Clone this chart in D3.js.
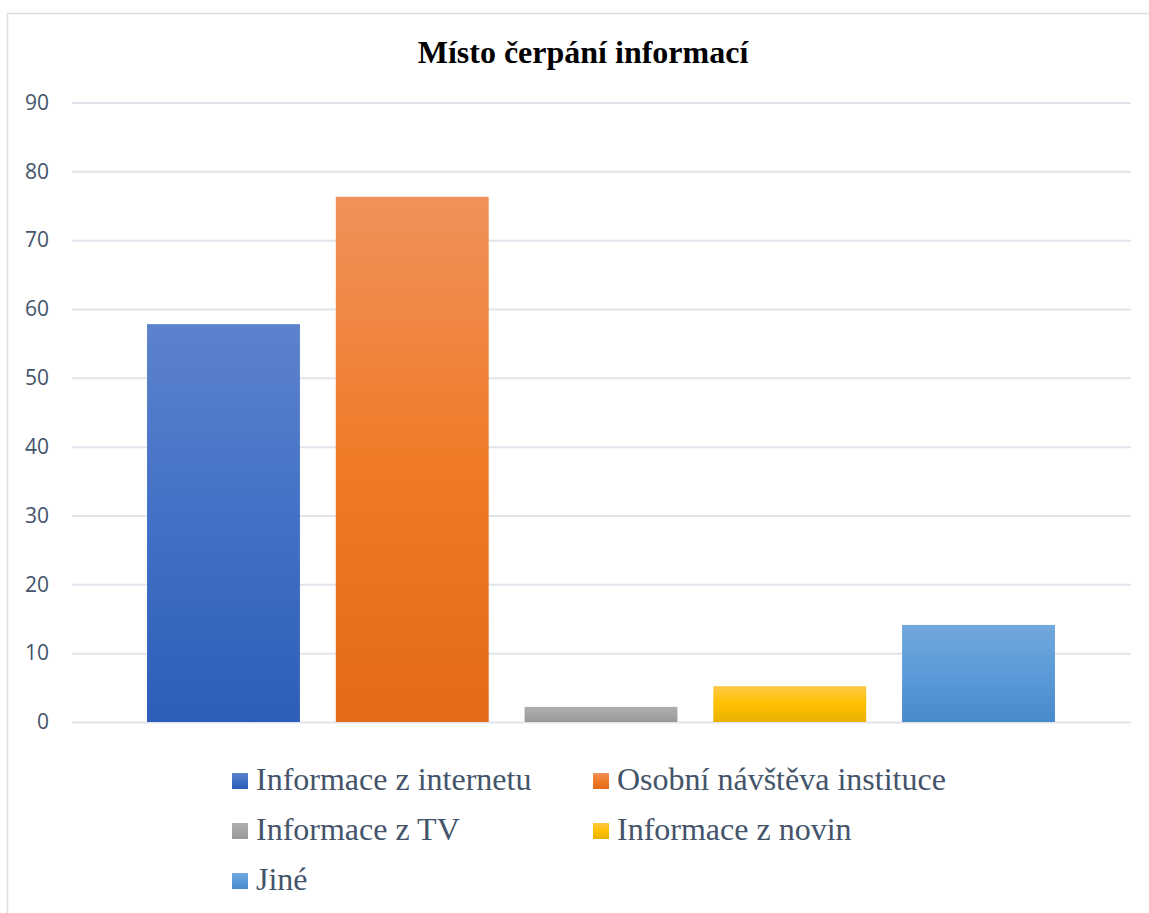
<!DOCTYPE html>
<html>
<head>
<meta charset="utf-8">
<script src="https://cdn.jsdelivr.net/npm/d3@7"></script>
<style>
  html, body { margin: 0; padding: 0; background: #ffffff; }
  svg { display: block; }
</style>
</head>
<body>
<script>
// ---- data ----
const categories = ["Informace z internetu", "Osobní návštěva instituce", "Informace z TV", "Informace z novin", "Jiné"];
const values = [57.8, 76.3, 2.2, 5.2, 14.1];
const yTicks = [0, 10, 20, 30, 40, 50, 60, 70, 80, 90];
const title = "Místo čerpání informací";
// gradient stops per category: [top, middle, bottom]
const colorStops = [
  ["#5c82cc", "#4270c6", "#2d5db8"],
  ["#f1915b", "#ef7b27", "#e36a18"],
  ["#afafaf", "#a5a5a5", "#989898"],
  ["#ffc848", "#ffc000", "#e8b200"],
  ["#71a8dc", "#5b9bd9", "#4889ca"]
];

const W = 1149, H = 913;
const svg = d3.select("body").append("svg").attr("width", W).attr("height", H);
const defs = svg.append("defs");

colorStops.forEach((c, i) => {
  const g = defs.append("linearGradient").attr("id", "grad" + i)
    .attr("x1", 0).attr("y1", 0).attr("x2", 0).attr("y2", 1);
  g.append("stop").attr("offset", "0%").attr("stop-color", c[0]);
  g.append("stop").attr("offset", "50%").attr("stop-color", c[1]);
  g.append("stop").attr("offset", "100%").attr("stop-color", c[2]);
});

// chart frame
svg.append("rect").attr("x", 7.5).attr("y", 13.5).attr("width", W + 20).attr("height", H + 20)
  .attr("fill", "#ffffff").attr("stroke", "#d9dde4").attr("stroke-width", 1.5);

// title
svg.append("text").attr("x", 583).attr("y", 63).attr("text-anchor", "middle")
  .attr("font-family", "'Liberation Serif', 'Times New Roman', serif")
  .attr("font-weight", "bold").attr("font-size", 32).attr("fill", "#000000")
  .text(title);

const plotL = 72, plotR = 1131;
const y = d3.scaleLinear().domain([0, 90]).range([722, 102.5]);
const x = d3.scaleBand().domain(categories).range([129.1, 1072.9]).paddingInner(0.19).paddingOuter(0.095);

// y axis + gridlines
const yAxis = d3.axisLeft(y).tickValues(yTicks).tickSize(-(plotR - plotL)).tickPadding(23).tickFormat(d3.format("d"));
const ga = svg.append("g").attr("transform", `translate(${plotL},0)`).call(yAxis);
ga.select(".domain").remove();
ga.selectAll(".tick line").attr("stroke", "#e1e4ea").attr("stroke-width", 2);
ga.selectAll(".tick text").attr("font-family", "'Open Sans', sans-serif").attr("font-size", 21)
  .attr("fill", "#44546a");

// bars
svg.append("g").selectAll("rect").data(categories).join("rect")
  .attr("x", d => x(d))
  .attr("width", x.bandwidth())
  .attr("y", (d, i) => y(values[i]))
  .attr("height", (d, i) => y(0) - y(values[i]))
  .attr("fill", (d, i) => `url(#grad${i})`);

// legend
const legCols = [232, 593];
const legRows = [790, 840, 890];
const leg = svg.append("g").selectAll("g").data(categories).join("g")
  .attr("transform", (d, i) => `translate(${legCols[i % 2]},${legRows[Math.floor(i / 2)]})`);
leg.append("rect").attr("x", 0).attr("y", -17).attr("width", 16).attr("height", 16)
  .attr("fill", (d, i) => `url(#grad${i})`);
leg.append("text").attr("x", 24).attr("y", 0)
  .attr("font-family", "'Liberation Serif', 'Times New Roman', serif")
  .attr("font-size", 32).attr("fill", "#44546a")
  .text(d => d);
</script>
</body>
</html>
